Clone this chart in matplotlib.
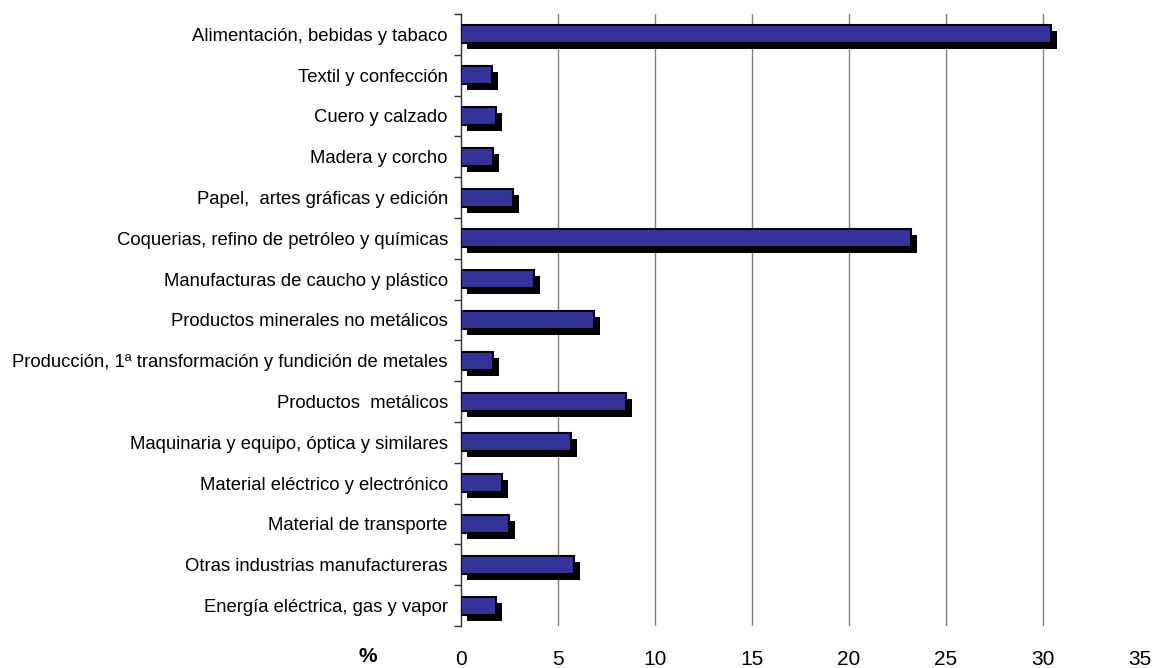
import matplotlib
matplotlib.use("Agg")
import matplotlib.pyplot as plt
import matplotlib.patheffects as pe
import numpy as np

plt.rcParams['font.family'] = ['Liberation Sans', 'DejaVu Sans']

SECTORS = [
    'Alimentación, bebidas y tabaco',
    'Textil y confección',
    'Cuero y calzado',
    'Madera y corcho',
    'Papel,  artes gráficas y edición',
    'Coquerias, refino de petróleo y químicas',
    'Manufacturas de caucho y plástico',
    'Productos minerales no metálicos',
    'Producción, 1ª transformación y fundición de metales',
    'Productos  metálicos',
    'Maquinaria y equipo, óptica y similares',
    'Material eléctrico y electrónico',
    'Material de transporte',
    'Otras industrias manufactureras',
    'Energía eléctrica, gas y vapor',
]
SHARES = [30.4, 1.58, 1.79, 1.65, 2.68, 23.2, 3.78, 6.86, 1.65, 8.49, 5.67, 2.1, 2.47, 5.82, 1.79]
XTICKS = [0, 5, 10, 15, 20, 25, 30, 35]

BAR_COLOUR = '#333399'

fig = plt.figure(figsize=(11.54, 6.68), dpi=100)
ax = fig.add_axes([461 / 1154, 1 - 626 / 668, (1140 - 461) / 1154, (626 - 14) / 668])

ypos = np.arange(len(SECTORS))
shadow = [pe.SimplePatchShadow(offset=(4.3, -4.3), shadow_rgbFace='black', alpha=1.0), pe.Normal()]
ax.barh(ypos, SHARES, height=0.44, color=BAR_COLOUR, edgecolor='black', linewidth=1.5,
        path_effects=shadow, zorder=3)

ax.set_xlim(0, 35)
ax.set_ylim(len(SECTORS) - 0.5, -0.5)

# vertical gridlines (none on 0 and 35)
for x in XTICKS[1:-1]:
    ax.axvline(x, color='#808080', linewidth=1.0, zorder=1)

ax.set_xticks(XTICKS)
ax.set_xticklabels([str(x) for x in XTICKS], fontsize=15)
ax.tick_params(axis='x', length=0, pad=17)

ax.set_yticks(ypos)
ax.set_yticklabels(SECTORS, fontsize=13.3)
ax.set_yticks(np.arange(len(SECTORS) + 1) - 0.5, minor=True)
ax.tick_params(axis='y', which='major', length=0, pad=9.5)
ax.tick_params(axis='y', which='minor', length=5, width=1.0, color='#333333')

for side in ['top', 'right', 'bottom']:
    ax.spines[side].set_visible(False)
ax.spines['left'].set_color('#333333')
ax.spines['left'].set_linewidth(1.0)

fig.text(368 / 1154, 1 - 657 / 668, '%', ha='center', va='center', fontsize=15, fontweight='bold')

fig.savefig('out.png', dpi=100)
